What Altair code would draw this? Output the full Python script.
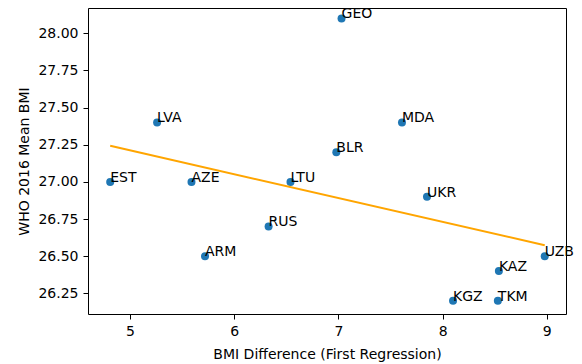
import altair as alt
import pandas as pd

countries = ["EST", "LVA", "AZE", "ARM", "RUS", "LTU", "BLR", "GEO", "MDA", "UKR", "KGZ", "TKM", "KAZ", "UZB"]
bmi_diff = [4.81, 5.26, 5.59, 5.72, 6.33, 6.54, 6.98, 7.03, 7.61, 7.85, 8.10, 8.53, 8.54, 8.98]
who_bmi = [27.0, 27.4, 27.0, 26.5, 26.7, 27.0, 27.2, 28.1, 27.4, 26.9, 26.2, 26.2, 26.4, 26.5]

x_ticks = [5, 6, 7, 8, 9]
y_ticks = [26.25, 26.50, 26.75, 27.00, 27.25, 27.50, 27.75, 28.00]

df = pd.DataFrame({"country": countries, "x": bmi_diff, "y": who_bmi})

FONT = "DejaVu Sans"
xs = alt.Scale(domain=[4.597, 9.184], nice=False, zero=False)
ys = alt.Scale(domain=[26.111, 28.170], nice=False, zero=False)

x_enc = alt.X("x:Q", scale=xs,
              axis=alt.Axis(title="BMI Difference (First Regression)", values=x_ticks, format="d",
                            titleY=44, titleBaseline="alphabetic"))
y_enc = alt.Y("y:Q", scale=ys,
              axis=alt.Axis(title="WHO 2016 Mean BMI", values=y_ticks, format=".2f",
                            titleX=-64, titleBaseline="middle", titleAlign="center"))

base = alt.Chart(df)

points = base.mark_circle(size=64, color="#1f77b4", opacity=1).encode(x=x_enc, y=y_enc)

line = base.transform_regression("x", "y").mark_line(color="orange", strokeWidth=2).encode(
    x=alt.X("x:Q", scale=xs), y=alt.Y("y:Q", scale=ys))

labels = base.mark_text(align="left", baseline="alphabetic", fontSize=14, font=FONT, color="#000").encode(
    x=alt.X("x:Q", scale=xs), y=alt.Y("y:Q", scale=ys), text="country:N")

chart = alt.layer(points, line, labels).properties(
    width=478, height=306,
    autosize=alt.AutoSizeParams(type="none"),
    padding={"left": 80, "top": 0, "right": 8, "bottom": 50},
).configure_view(stroke="#000", strokeWidth=1).configure_axis(
    labelFont=FONT, titleFont=FONT, labelFontSize=14, titleFontSize=14,
    titleFontWeight="normal", labelColor="#000", titleColor="#000",
    tickColor="#000", tickSize=5, tickWidth=1, labelPadding=5,
    domain=False, grid=False,
)

chart.save("out.html", embed_options={"renderer": "svg", "actions": False})
